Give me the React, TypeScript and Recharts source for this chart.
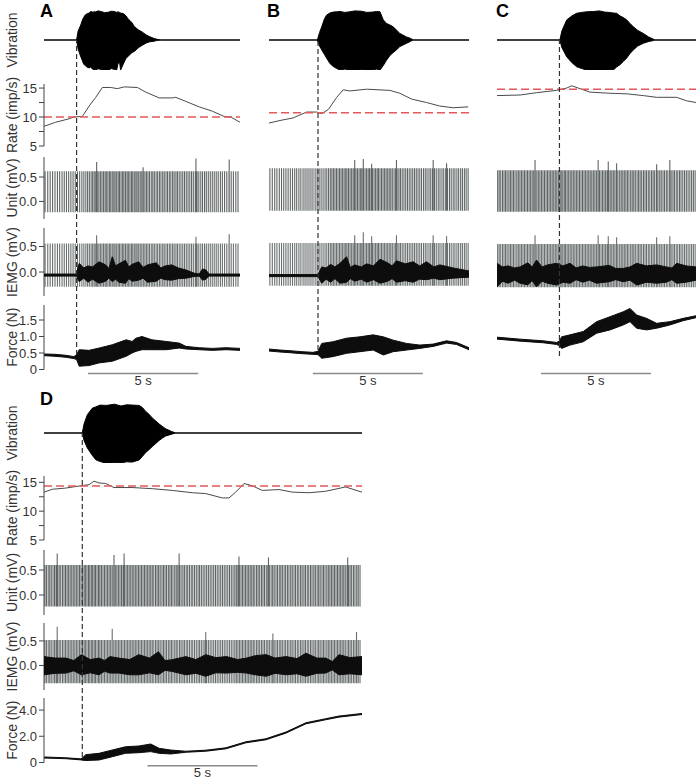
import React from "react";
import { ComposedChart, Line, Area, XAxis, YAxis, ReferenceLine } from "recharts";

const FONT = '"Liberation Sans", Arial, Helvetica, sans-serif';
const AXIS = "#444";
const SPIKE = "#5f6565";
const TRACE = "#0d0d0d";
const PAD = 9;

// ---- Panel A (time in s) ----
const vibA = [[0, 0, 0], [1.48, 0, 0], [1.55, -0.3, 0.3], [1.67, -0.56, 0.5], [1.75, -0.7, 0.68], [1.8, -0.8, 0.75], [1.88, -0.86, 0.84], [1.95, -0.9, 0.87], [2.05, -0.93, 0.9], [2.12, -0.9, 0.95], [2.2, -0.97, 0.93], [2.35, -1.0, 0.94], [2.45, -0.96, 0.97], [2.6, -0.98, 0.95], [2.75, -1.01, 0.91], [2.95, -1.0, 0.93], [3.05, -0.95, 0.96], [3.2, -0.98, 0.95], [3.3, -1.0, 0.92], [3.36, -0.78, 0.94], [3.43, -0.74, 0.92], [3.48, -1.0, 0.9], [3.6, -0.8, 0.88], [3.73, -0.6, 0.8], [3.82, -0.55, 0.7], [3.9, -0.48, 0.65], [4.0, -0.42, 0.57], [4.1, -0.38, 0.45], [4.18, -0.33, 0.4], [4.3, -0.25, 0.33], [4.45, -0.18, 0.27], [4.64, -0.1, 0.17], [4.8, -0.06, 0.11], [5.0, -0.04, 0.05], [5.1, -0.02, 0.03], [5.3, 0, 0], [8.9, 0, 0]];
const rateA = [[0, 8.4], [0.53, 9.1], [1.14, 9.7], [1.36, 10.0], [1.74, 10.1], [2.05, 11.9], [2.35, 13.4], [2.65, 15.1], [3.03, 15.1], [3.33, 14.9], [3.64, 15.2], [4.24, 15.1], [4.62, 14.3], [5.23, 13.3], [5.83, 13.3], [5.98, 13.4], [6.44, 12.7], [7.05, 11.75], [7.65, 11.0], [8.18, 10.1], [8.48, 10.0], [8.9, 9.1]];
const spikesA = [0.05, 0.17, 0.28, 0.39, 0.5, 0.61, 0.71, 0.82, 0.92, 1.02, 1.12, 1.22, 1.32, 1.42, 1.52, 1.62, 1.72, 1.81, 1.9, 1.98, 2.06, 2.14, 2.21, 2.28, 2.35, 2.42, 2.49, 2.56, 2.63, 2.7, 2.77, 2.83, 2.9, 2.97, 3.03, 3.1, 3.17, 3.23, 3.3, 3.37, 3.43, 3.5, 3.57, 3.63, 3.7, 3.77, 3.83, 3.9, 3.97, 4.03, 4.1, 4.17, 4.23, 4.3, 4.37, 4.44, 4.51, 4.58, 4.65, 4.72, 4.79, 4.87, 4.94, 5.01, 5.09, 5.16, 5.24, 5.31, 5.39, 5.46, 5.54, 5.61, 5.69, 5.76, 5.84, 5.91, 5.99, 6.06, 6.14, 6.22, 6.3, 6.38, 6.46, 6.54, 6.62, 6.7, 6.78, 6.87, 6.95, 7.03, 7.12, 7.2, 7.29, 7.37, 7.46, 7.55, 7.64, 7.73, 7.82, 7.91, 8.01, 8.1, 8.2, 8.3, 8.4, 8.5, 8.6, 8.71, 8.81];
const unitTallA = [[2.39, 0.81], [4.5, 0.7], [6.9, 0.88], [8.41, 0.86]];
const iemgTallA = [[2.39, 0.72], [6.9, 0.69], [8.41, 0.74]];
const iemgA = [[0, -0.08, -0.04], [1.48, -0.08, -0.04], [1.55, -0.15, 0.1], [1.6, -0.19, 0.17], [1.8, -0.12, 0.08], [2.0, -0.2, 0.12], [2.2, -0.14, 0.1], [2.5, -0.22, 0.2], [2.8, -0.18, 0.14], [2.95, -0.12, 0.07], [3.1, -0.19, 0.3], [3.25, -0.14, 0.12], [3.4, -0.2, 0.16], [3.7, -0.22, 0.23], [3.85, -0.13, 0.1], [4.0, -0.18, 0.15], [4.3, -0.16, 0.2], [4.5, -0.12, 0.09], [4.7, -0.2, 0.14], [5.1, -0.18, 0.18], [5.3, -0.12, 0.08], [5.5, -0.15, 0.12], [5.8, -0.16, 0.14], [6.1, -0.13, 0.08], [6.45, -0.12, 0.04], [6.8, -0.09, -0.02], [7.05, -0.08, -0.04], [7.2, -0.16, 0.06], [7.35, -0.14, 0.04], [7.5, -0.08, -0.04], [8.9, -0.08, -0.04]];
const forceA = [[0, 0.42, 0.47], [0.5, 0.4, 0.46], [1.0, 0.37, 0.43], [1.36, 0.33, 0.39], [1.48, 0.3, 0.45], [1.6, 0.1, 0.6], [2.05, 0.12, 0.58], [2.5, 0.2, 0.65], [3.1, 0.25, 0.75], [3.73, 0.4, 0.9], [4.0, 0.5, 0.85], [4.18, 0.55, 0.95], [4.45, 0.6, 1.0], [4.9, 0.6, 0.9], [5.55, 0.6, 0.85], [6.14, 0.65, 0.8], [6.45, 0.62, 0.7], [7.05, 0.6, 0.66], [7.64, 0.58, 0.64], [8.27, 0.6, 0.66], [8.9, 0.58, 0.64]];

// ---- Panel B ----
const vibB = [[0, 0, 0], [2.2, 0, 0], [2.3, -0.2, 0.25], [2.4, -0.33, 0.44], [2.52, -0.48, 0.7], [2.62, -0.6, 0.83], [2.77, -0.78, 0.9], [2.92, -0.88, 0.93], [3.08, -0.95, 0.94], [3.23, -1.0, 0.95], [3.45, -0.97, 0.92], [3.68, -1.0, 0.94], [3.9, -1.02, 0.97], [4.2, -0.98, 0.96], [4.45, -1.0, 0.92], [4.7, -1.0, 0.93], [4.9, -0.97, 0.95], [5.05, -1.0, 0.94], [5.2, -0.85, 0.67], [5.35, -0.67, 0.55], [5.5, -0.52, 0.5], [5.65, -0.42, 0.44], [5.8, -0.33, 0.33], [5.95, -0.22, 0.22], [6.26, -0.11, 0.1], [6.45, -0.04, 0.05], [6.56, 0, 0], [9.1, 0, 0]];
const rateB = [[0, 8.96], [0.5, 9.4], [1.1, 9.85], [1.71, 10.86], [2.17, 10.86], [2.4, 10.6], [2.7, 11.3], [3.08, 13.4], [3.38, 14.7], [3.68, 14.5], [4.44, 14.8], [5.5, 14.6], [5.95, 14.1], [6.49, 13.1], [7.17, 12.5], [7.77, 11.9], [8.38, 11.6], [9.06, 11.75]];
const spikesB = [0.04, 0.15, 0.26, 0.36, 0.47, 0.57, 0.67, 0.77, 0.87, 0.97, 1.07, 1.17, 1.26, 1.36, 1.45, 1.55, 1.64, 1.73, 1.82, 1.91, 2.0, 2.1, 2.19, 2.28, 2.37, 2.46, 2.55, 2.63, 2.71, 2.79, 2.86, 2.93, 3.0, 3.07, 3.14, 3.21, 3.28, 3.35, 3.42, 3.49, 3.55, 3.62, 3.69, 3.76, 3.83, 3.89, 3.96, 4.03, 4.1, 4.17, 4.23, 4.3, 4.37, 4.44, 4.51, 4.57, 4.64, 4.71, 4.78, 4.85, 4.92, 4.98, 5.05, 5.12, 5.19, 5.26, 5.33, 5.4, 5.47, 5.54, 5.61, 5.69, 5.76, 5.83, 5.91, 5.98, 6.06, 6.14, 6.22, 6.3, 6.38, 6.46, 6.54, 6.62, 6.7, 6.78, 6.86, 6.94, 7.03, 7.11, 7.19, 7.28, 7.36, 7.44, 7.53, 7.61, 7.7, 7.78, 7.87, 7.95, 8.04, 8.12, 8.21, 8.29, 8.38, 8.46, 8.55, 8.63, 8.72, 8.8, 8.89, 8.97, 9.06];
const unitTallB = [[3.9, 0.85], [4.29, 0.87], [4.67, 0.77], [5.8, 0.85], [7.47, 0.85], [8.08, 0.78]];
const iemgTallB = [[3.9, 0.72], [4.29, 0.78], [4.67, 0.7], [5.8, 0.72], [7.47, 0.72], [8.08, 0.7]];
const iemgB = [[0, -0.09, -0.05], [2.23, -0.09, -0.05], [2.4, -0.22, 0.1], [2.6, -0.14, 0.08], [2.8, -0.2, 0.15], [3.0, -0.13, 0.1], [3.23, -0.22, 0.17], [3.53, -0.2, 0.3], [3.7, -0.13, 0.09], [3.9, -0.18, 0.14], [4.2, -0.14, 0.1], [4.44, -0.2, 0.16], [4.75, -0.15, 0.12], [5.05, -0.22, 0.25], [5.4, -0.18, 0.18], [5.6, -0.13, 0.12], [5.8, -0.2, 0.22], [6.2, -0.17, 0.16], [6.56, -0.2, 0.2], [6.85, -0.14, 0.12], [7.17, -0.15, 0.2], [7.5, -0.12, 0.1], [7.77, -0.15, 0.14], [8.38, -0.12, 0.08], [9.1, -0.1, 0.02]];
const forceB = [[0, 0.56, 0.62], [0.5, 0.53, 0.59], [0.95, 0.51, 0.57], [1.5, 0.48, 0.54], [2.0, 0.46, 0.52], [2.23, 0.45, 0.55], [2.4, 0.34, 0.79], [2.9, 0.39, 0.84], [3.53, 0.49, 0.95], [4.14, 0.54, 0.99], [4.74, 0.59, 1.05], [5.2, 0.44, 0.99], [5.65, 0.54, 0.89], [6.26, 0.59, 0.79], [6.86, 0.64, 0.74], [7.47, 0.7, 0.77], [8.08, 0.8, 0.87], [8.53, 0.76, 0.82], [9.1, 0.6, 0.66]];

// ---- Panel C ----
const vibC = [[0, 0, 0], [2.86, 0, 0], [2.95, -0.25, 0.3], [3.17, -0.56, 0.67], [3.4, -0.75, 0.8], [3.62, -0.89, 0.89], [3.85, -0.95, 0.92], [4.08, -1.0, 0.94], [4.38, -1.05, 0.95], [4.65, -1.0, 0.97], [4.9, -1.02, 0.93], [5.1, -0.98, 0.92], [5.29, -1.0, 0.9], [5.44, -0.9, 0.89], [5.6, -0.82, 0.8], [5.74, -0.72, 0.75], [5.9, -0.6, 0.67], [6.05, -0.45, 0.55], [6.2, -0.33, 0.44], [6.4, -0.2, 0.32], [6.65, -0.11, 0.22], [6.9, -0.05, 0.1], [7.1, -0.02, 0.03], [7.2, 0, 0], [9.05, 0, 0]];
const rateC = [[0, 13.7], [1.05, 13.8], [1.8, 14.2], [2.71, 14.6], [3.17, 15.0], [3.4, 15.4], [3.77, 14.9], [4.23, 14.3], [5.14, 14.1], [5.9, 14.0], [6.65, 13.7], [7.26, 13.4], [8.17, 13.4], [8.62, 12.8], [9.05, 12.5]];
const spikesC = [0.03, 0.1, 0.17, 0.25, 0.32, 0.39, 0.46, 0.54, 0.61, 0.68, 0.75, 0.82, 0.9, 0.97, 1.04, 1.11, 1.18, 1.25, 1.32, 1.39, 1.46, 1.53, 1.6, 1.67, 1.74, 1.81, 1.88, 1.95, 2.02, 2.09, 2.16, 2.23, 2.3, 2.37, 2.44, 2.51, 2.58, 2.65, 2.72, 2.79, 2.86, 2.92, 2.99, 3.06, 3.12, 3.19, 3.26, 3.33, 3.4, 3.47, 3.54, 3.61, 3.68, 3.75, 3.82, 3.89, 3.96, 4.03, 4.1, 4.17, 4.24, 4.31, 4.38, 4.45, 4.52, 4.59, 4.66, 4.73, 4.8, 4.87, 4.94, 5.01, 5.08, 5.15, 5.22, 5.29, 5.36, 5.43, 5.5, 5.58, 5.65, 5.72, 5.79, 5.86, 5.93, 6.0, 6.08, 6.15, 6.22, 6.29, 6.37, 6.44, 6.51, 6.58, 6.66, 6.73, 6.8, 6.88, 6.95, 7.03, 7.1, 7.17, 7.25, 7.32, 7.4, 7.47, 7.55, 7.62, 7.7, 7.77, 7.85, 7.92, 8.0, 8.07, 8.15, 8.22, 8.3, 8.37, 8.45, 8.53, 8.61, 8.69, 8.77, 8.85, 8.93, 9.01];
const unitTallC = [[1.73, 0.85], [4.6, 0.85], [5.06, 0.82], [5.44, 0.78], [7.26, 0.76], [7.86, 0.85]];
const iemgTallC = [[1.73, 0.72], [4.6, 0.72], [5.06, 0.7], [5.44, 0.68], [7.26, 0.68], [7.86, 0.7]];
const iemgC = [[0, -0.29, 0.17], [0.25, -0.18, 0.1], [0.5, -0.22, 0.12], [0.8, -0.16, 0.08], [1.05, -0.22, 0.1], [1.4, -0.25, 0.18], [1.6, -0.17, 0.1], [1.8, -0.29, 0.235], [2.05, -0.18, 0.1], [2.3, -0.22, 0.14], [2.71, -0.255, 0.17], [3.0, -0.2, 0.12], [3.32, -0.22, 0.17], [3.6, -0.15, 0.08], [3.9, -0.2, 0.12], [4.2, -0.16, 0.09], [4.53, -0.22, 0.1], [5.1, -0.19, 0.13], [5.4, -0.15, 0.07], [5.74, -0.19, 0.07], [6.05, -0.16, 0.1], [6.35, -0.255, 0.17], [6.8, -0.2, 0.12], [7.26, -0.22, 0.14], [7.7, -0.2, 0.1], [7.95, -0.15, 0.08], [8.17, -0.22, 0.17], [8.6, -0.2, 0.12], [9.05, -0.16, 0.1]];
const forceC = [[0, 0.92, 0.98], [1.05, 0.86, 0.92], [2.1, 0.81, 0.87], [2.71, 0.76, 0.82], [2.84, 0.72, 0.86], [2.94, 0.64, 0.99], [3.32, 0.74, 1.05], [3.92, 0.84, 1.15], [4.53, 1.1, 1.45], [5.14, 1.2, 1.6], [5.74, 1.35, 1.75], [6.05, 1.45, 1.85], [6.35, 1.25, 1.65], [6.8, 1.2, 1.55], [7.26, 1.25, 1.4], [7.86, 1.35, 1.45], [8.47, 1.48, 1.55], [9.05, 1.57, 1.63]];

// ---- Panel D ----
const vibD = [[0, 0, 0], [1.74, 0, 0], [1.82, -0.25, 0.3], [1.97, -0.5, 0.61], [2.2, -0.75, 0.83], [2.35, -0.89, 0.87], [2.55, -0.95, 0.93], [2.8, -1.0, 0.92], [2.95, -1.03, 0.93], [3.2, -0.98, 0.96], [3.5, -1.0, 0.9], [3.75, -0.96, 0.94], [4.01, -0.97, 0.93], [4.32, -0.9, 0.92], [4.47, -0.78, 0.85], [4.62, -0.65, 0.72], [4.78, -0.55, 0.62], [4.92, -0.45, 0.5], [5.08, -0.35, 0.4], [5.23, -0.25, 0.3], [5.38, -0.17, 0.22], [5.53, -0.1, 0.14], [5.8, -0.04, 0.05], [5.99, 0, 0], [14.45, 0, 0]];
const rateD = [[0, 13.3], [0.38, 13.8], [0.98, 14.0], [1.67, 14.4], [2.05, 14.6], [2.27, 15.2], [2.5, 14.9], [2.8, 14.8], [3.18, 14.1], [4.0, 14.1], [4.92, 13.9], [5.83, 13.6], [6.74, 13.2], [7.35, 13.05], [8.1, 12.3], [8.41, 12.3], [8.71, 13.3], [9.09, 14.8], [9.47, 14.4], [9.92, 13.6], [10.68, 13.75], [11.29, 13.3], [12.05, 13.2], [12.8, 13.45], [13.7, 14.2], [14.45, 13.3]];
const spikesD = [0.04, 0.11, 0.19, 0.26, 0.33, 0.41, 0.48, 0.55, 0.62, 0.69, 0.76, 0.84, 0.91, 0.98, 1.05, 1.12, 1.19, 1.26, 1.33, 1.4, 1.47, 1.54, 1.61, 1.68, 1.75, 1.82, 1.88, 1.95, 2.02, 2.08, 2.15, 2.21, 2.28, 2.34, 2.41, 2.48, 2.54, 2.61, 2.68, 2.75, 2.82, 2.89, 2.96, 3.03, 3.1, 3.17, 3.24, 3.31, 3.38, 3.45, 3.52, 3.59, 3.66, 3.73, 3.8, 3.87, 3.94, 4.01, 4.08, 4.15, 4.22, 4.29, 4.36, 4.43, 4.5, 4.57, 4.64, 4.71, 4.78, 4.85, 4.92, 4.99, 5.07, 5.14, 5.21, 5.28, 5.36, 5.43, 5.5, 5.57, 5.65, 5.72, 5.79, 5.86, 5.94, 6.01, 6.08, 6.16, 6.23, 6.31, 6.38, 6.46, 6.53, 6.61, 6.69, 6.76, 6.84, 6.92, 7.0, 7.07, 7.15, 7.23, 7.31, 7.39, 7.47, 7.55, 7.63, 7.71, 7.79, 7.87, 7.95, 8.03, 8.11, 8.19, 8.27, 8.35, 8.43, 8.51, 8.59, 8.67, 8.74, 8.81, 8.88, 8.95, 9.02, 9.09, 9.16, 9.23, 9.3, 9.37, 9.44, 9.51, 9.58, 9.66, 9.73, 9.8, 9.88, 9.95, 10.02, 10.1, 10.17, 10.24, 10.32, 10.39, 10.46, 10.54, 10.61, 10.69, 10.76, 10.83, 10.91, 10.98, 11.06, 11.13, 11.21, 11.28, 11.36, 11.43, 11.51, 11.58, 11.66, 11.73, 11.81, 11.88, 11.96, 12.03, 12.11, 12.18, 12.26, 12.33, 12.41, 12.48, 12.55, 12.63, 12.7, 12.77, 12.85, 12.92, 12.99, 13.06, 13.13, 13.2, 13.27, 13.34, 13.41, 13.48, 13.55, 13.62, 13.69, 13.77, 13.84, 13.91, 13.98, 14.06, 14.13, 14.21, 14.28, 14.36];
const unitTallD = [[0.6, 0.83], [3.18, 0.8], [3.64, 0.83], [6.14, 0.83], [8.86, 0.77], [10.2, 0.75], [13.8, 0.75]];
const iemgTallD = [[0.6, 0.79], [3.1, 0.75], [7.35, 0.68], [10.4, 0.65], [14.2, 0.68]];
const iemgD = [[0, -0.19, 0.18], [0.5, -0.16, 0.15], [1.0, -0.155, 0.15], [1.35, -0.11, 0.1], [1.7, -0.19, 0.22], [2.1, -0.15, 0.12], [2.5, -0.19, 0.15], [2.75, -0.12, 0.1], [3.0, -0.155, 0.18], [3.4, -0.155, 0.15], [3.9, -0.19, 0.12], [4.3, -0.19, 0.22], [4.8, -0.15, 0.15], [5.2, -0.19, 0.28], [5.5, -0.1, 0.1], [5.8, -0.12, 0.115], [6.45, -0.19, 0.18], [6.9, -0.16, 0.12], [7.35, -0.22, 0.22], [7.8, -0.15, 0.16], [8.3, -0.155, 0.18], [8.8, -0.14, 0.12], [9.2, -0.155, 0.15], [9.6, -0.19, 0.2], [10.1, -0.22, 0.22], [10.5, -0.16, 0.15], [11.0, -0.19, 0.18], [11.5, -0.17, 0.14], [11.9, -0.22, 0.25], [12.4, -0.16, 0.15], [12.8, -0.155, 0.15], [13.1, -0.09, 0.08], [13.4, -0.19, 0.22], [13.9, -0.17, 0.16], [14.45, -0.19, 0.18]];
const forceD = [[0, 0.34, 0.42], [0.99, 0.29, 0.36], [1.67, 0.2, 0.28], [1.74, 0.18, 0.35], [1.9, 0.15, 0.6], [2.5, 0.19, 0.7], [3.1, 0.44, 0.95], [3.7, 0.7, 1.2], [4.32, 0.75, 1.26], [4.85, 0.83, 1.41], [5.23, 0.7, 1.08], [5.76, 0.65, 0.95], [6.44, 0.78, 0.86], [7.35, 0.86, 0.94], [8.26, 1.04, 1.12], [9.17, 1.5, 1.58], [10.08, 1.73, 1.81], [10.99, 2.24, 2.32], [11.9, 2.95, 3.03], [12.8, 3.26, 3.34], [13.4, 3.46, 3.54], [14.45, 3.66, 3.74]];

const rateTicks = [5, 7.5, 10, 12.5, 15];
const mvTicks = [0, 0.5];

type Row = { top: number; height: number; domain: [number, number] };
type Rows = { vib: Row; rate: Row; unit: Row; iemg: Row; force: Row };

const TOP_ROWS: Rows = {
  vib: { top: 10, height: 60, domain: [-1, 1] },
  rate: { top: 84, height: 62, domain: [5, 15.7] },
  unit: { top: 157, height: 62, domain: [-0.36, 0.91] },
  iemg: { top: 228, height: 68, domain: [-0.47, 0.863] },
  force: { top: 305, height: 64.5, domain: [0, 1.955] },
};
const D_ROWS: Rows = {
  vib: { top: 403, height: 60, domain: [-1, 1] },
  rate: { top: 476, height: 64, domain: [5, 16.1] },
  unit: { top: 550, height: 65, domain: [-0.4, 0.9] },
  iemg: { top: 623, height: 67, domain: [-0.5, 0.865] },
  force: { top: 698, height: 64.5, domain: [0, 4.92] },
};

const pts = (arr: number[][]) => arr.map(([t, v]) => ({ t, v }));
const band = (arr: number[][]) => arr.map(([t, lo, hi]) => ({ t, r: [lo, hi] }));
const spikeRows = (times: number[], lo: number, hi: number, tall: number[][]) => [
  ...times.flatMap((t) => [{ t, v: lo }, { t, v: hi }, { t, v: null }]),
  ...tall.flatMap(([t, p]) => [{ t, v: lo }, { t, v: p }, { t, v: null }]),
];

const panels = [
  { letter: "A", lx: 40, ly: 2, plotLeft: 44, plotWidth: 196, axis: true, dur: 8.9, onset: 1.48, threshold: 10.0, rows: TOP_ROWS, vib: vibA, rate: rateA, spikes: spikesA, unitRange: [-0.22, 0.62], unitTall: unitTallA, iemgRange: [-0.29, 0.56], iemgTall: iemgTallA, iemg: iemgA, force: forceA, forceTicks: [0, 0.5, 1, 1.5], bar: [2, 7], barY: -0.12, dash: [40, 355] },
  { letter: "B", lx: 267, ly: 2, plotLeft: 269, plotWidth: 200, axis: false, dur: 9.1, onset: 2.23, threshold: 10.75, rows: TOP_ROWS, vib: vibB, rate: rateB, spikes: spikesB, unitRange: [-0.19, 0.68], unitTall: unitTallB, iemgRange: [-0.27, 0.57], iemgTall: iemgTallB, iemg: iemgB, force: forceB, forceTicks: [], bar: [2, 7], barY: -0.12, dash: [40, 350] },
  { letter: "C", lx: 496, ly: 2, plotLeft: 497, plotWidth: 199, axis: false, dur: 9.05, onset: 2.84, threshold: 14.8, rows: TOP_ROWS, vib: vibC, rate: rateC, spikes: spikesC, unitRange: [-0.21, 0.64], unitTall: unitTallC, iemgRange: [-0.3, 0.55], iemgTall: iemgTallC, iemg: iemgC, force: forceC, forceTicks: [], bar: [2, 7], barY: -0.12, dash: [40, 356] },
  { letter: "D", lx: 40, ly: 390, plotLeft: 44, plotWidth: 318, axis: true, dur: 14.45, onset: 1.74, threshold: 14.35, rows: D_ROWS, vib: vibD, rate: rateD, spikes: spikesD, unitRange: [-0.23, 0.6], unitTall: unitTallD, iemgRange: [-0.36, 0.52], iemgTall: iemgTallD, iemg: iemgD, force: forceD, forceTicks: [0, 2, 4], bar: [4.7, 9.7], barY: -0.25, dash: [433, 757] },
];

const yTitle = (text: string) => ({
  value: text,
  content: (props: any) => {
    const vb = props.viewBox || { x: 0, y: 0, width: 44, height: 60 };
    const cx = vb.x + 12;
    const cy = vb.y + vb.height / 2;
    return (
      <text x={cx} y={cy} transform={`rotate(-90 ${cx} ${cy})`} textAnchor="middle" dominantBaseline="central" fontSize={14} fill="#333" fontFamily={FONT}>
        {text}
      </text>
    );
  },
});

const mvFmt = (v: number) => v.toFixed(1);
const rateFmt = (v: number) => (v % 5 === 0 ? String(v) : "");
const forceFmt = (v: number) => (v === 0 ? "0" : v.toFixed(1));

function Strip(props: any) {
  const { left, width, row, dur, axisW, title, ticks, fmt, extraBottom = 0, children } = props;
  const showTicks = ticks && ticks.length > 0;
  return (
    <div style={{ position: "absolute", left, top: row.top - PAD }}>
      <ComposedChart width={width} height={row.height + PAD * 2 + extraBottom} margin={{ top: PAD, right: 0, bottom: PAD + extraBottom, left: 0 }}>
        <XAxis type="number" dataKey="t" domain={[0, dur]} allowDataOverflow hide />
        {axisW > 0 ? (
          <YAxis
            type="number"
            domain={row.domain}
            allowDataOverflow
            width={axisW}
            ticks={showTicks ? ticks : undefined}
            interval={0}
            tickFormatter={fmt}
            tickSize={5}
            axisLine={showTicks ? { stroke: AXIS } : false}
            tickLine={showTicks ? { stroke: AXIS } : false}
            tick={showTicks ? { fill: "#333", fontSize: 13, fontFamily: FONT } : false}
            label={yTitle(title)}
          />
        ) : (
          <YAxis type="number" domain={row.domain} allowDataOverflow hide />
        )}
        {children}
      </ComposedChart>
    </div>
  );
}

function Panel({ p }: { p: any }) {
  const axisW = p.axis ? 44 : 0;
  const left = p.plotLeft - axisW;
  const width = p.plotWidth + axisW;
  const R: Rows = p.rows;
  const common = { left, width, dur: p.dur, axisW };
  const bare = { left: p.plotLeft, width: p.plotWidth, dur: p.dur, axisW: 0 };
  return (
    <>
      <div style={{ position: "absolute", left: p.lx, top: p.ly, fontFamily: FONT, fontWeight: 700, fontSize: 18, lineHeight: "18px", color: "#000" }}>{p.letter}</div>

      <Strip {...common} row={R.vib} title="Vibration">
        <Area data={band(p.vib)} dataKey="r" type="linear" stroke="#000" strokeWidth={1} fill="#000" fillOpacity={1} dot={false} isAnimationActive={false} />
      </Strip>

      <Strip {...common} row={R.rate} title="Rate (imp/s)" ticks={rateTicks} fmt={rateFmt}>
        <Line data={pts(p.rate)} dataKey="v" type="linear" stroke="#4a4a4a" strokeWidth={1} dot={false} isAnimationActive={false} />
        <ReferenceLine y={p.threshold} stroke="#e4575a" strokeWidth={1.5} strokeDasharray="8 4" />
      </Strip>

      <Strip {...common} row={R.unit} title="Unit (mV)" ticks={mvTicks} fmt={mvFmt}>
        <Line data={spikeRows(p.spikes, p.unitRange[0], p.unitRange[1], p.unitTall)} dataKey="v" type="linear" stroke={SPIKE} strokeWidth={1.1} dot={false} connectNulls={false} isAnimationActive={false} />
      </Strip>

      <Strip {...common} row={R.iemg} title="IEMG (mV)" ticks={mvTicks} fmt={mvFmt}>
        <Line data={spikeRows(p.spikes, p.iemgRange[0], p.iemgRange[1], p.iemgTall)} dataKey="v" type="linear" stroke="#6a7070" strokeWidth={1.1} dot={false} connectNulls={false} isAnimationActive={false} />
      </Strip>
      {/* black background EMG drawn above the unit spikes */}
      <Strip {...bare} row={R.iemg}>
        <Area data={band(p.iemg)} dataKey="r" type="linear" stroke={TRACE} strokeWidth={1} fill={TRACE} fillOpacity={1} dot={false} isAnimationActive={false} />
      </Strip>

      <Strip {...common} row={R.force} title="Force (N)" ticks={p.forceTicks} fmt={forceFmt} extraBottom={22}>
        <Area data={band(p.force)} dataKey="r" type="linear" stroke={TRACE} strokeWidth={1} fill={TRACE} fillOpacity={1} dot={false} isAnimationActive={false} />
        <ReferenceLine
          segment={[{ x: p.bar[0], y: p.barY }, { x: p.bar[1], y: p.barY }]}
          ifOverflow="visible"
          stroke="#8a8a8a"
          strokeWidth={1.5}
          label={{ value: "5 s", position: "bottom", offset: 2, fill: "#333", fontSize: 13, fontFamily: FONT }}
        />
      </Strip>

      <div style={{ position: "absolute", left: p.plotLeft, top: p.dash[0] }}>
        <ComposedChart data={pts(p.rate)} width={p.plotWidth} height={p.dash[1] - p.dash[0]} margin={{ top: 0, right: 0, bottom: 0, left: 0 }}>
          <XAxis type="number" dataKey="t" domain={[0, p.dur]} allowDataOverflow hide />
          <YAxis type="number" domain={[0, 1]} allowDataOverflow hide />
          <ReferenceLine x={p.onset} stroke="#333" strokeWidth={1.2} strokeDasharray="5 3" />
        </ComposedChart>
      </div>
    </>
  );
}

export default function App() {
  return (
    <div style={{ position: "absolute", left: 0, top: 0, width: 696, height: 779, background: "#fff", fontFamily: FONT, overflow: "hidden" }}>
      {panels.map((p) => (
        <Panel key={p.letter} p={p} />
      ))}
    </div>
  );
}
